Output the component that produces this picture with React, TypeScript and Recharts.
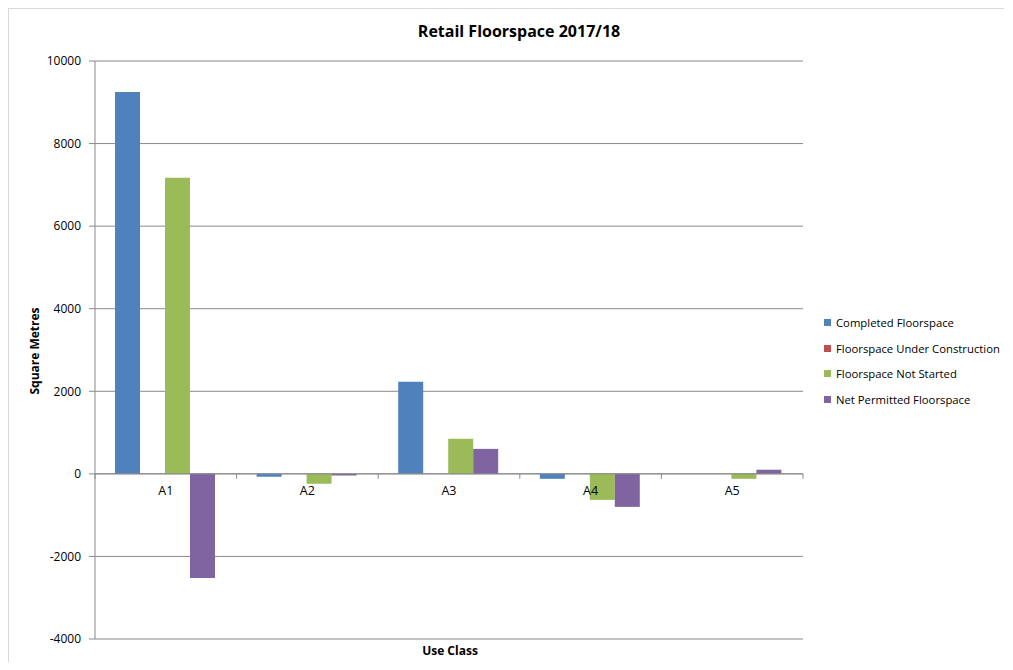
import React from 'react';
import { BarChart, Bar, XAxis, YAxis, CartesianGrid, ReferenceLine } from 'recharts';

const categories = ['A1', 'A2', 'A3', 'A4', 'A5'];
const completed = [9250, -70, 2230, -120, 0];
const underConstruction = [0, 0, 0, 0, 0];
const notStarted = [7170, -240, 850, -630, -120];
const netPermitted = [-2520, -40, 605, -800, 100];
const yTicks = [-4000, -2000, 0, 2000, 4000, 6000, 8000, 10000];

const series = [
  { key: 'completed', name: 'Completed Floorspace', color: '#4f81bd' },
  { key: 'underConstruction', name: 'Floorspace Under Construction', color: '#c0504d' },
  { key: 'notStarted', name: 'Floorspace Not Started', color: '#9bbb59' },
  { key: 'netPermitted', name: 'Net Permitted Floorspace', color: '#8064a2' },
];

const chartData = categories.map((c, i) => ({
  name: c,
  completed: completed[i],
  underConstruction: underConstruction[i],
  notStarted: notStarted[i],
  netPermitted: netPermitted[i],
}));

/* layout */
const W = 1005;
const H = 662;
const margin = { top: 53, right: 210, bottom: 30, left: 0 };
const Y_AXIS_W = 87;
const X_AXIS_H = 1;
const Y_MIN = -4000;
const Y_MAX = 10000;
const plotH = H - margin.top - margin.bottom - X_AXIS_H;
const plotW = W - margin.left - margin.right - Y_AXIS_W;
const band = plotW / categories.length;
const zeroY = margin.top + (plotH * Y_MAX) / (Y_MAX - Y_MIN);
const font = '"Open Sans", sans-serif';
const grey = '#898989';

const CategoryTick = (props: any) => {
  const { x, index, payload } = props;
  const left = x - band / 2;
  return (
    <g>
      <line x1={left} y1={zeroY} x2={left} y2={zeroY + 5} stroke={grey} />
      {index === categories.length - 1 && (
        <line x1={left + band} y1={zeroY} x2={left + band} y2={zeroY + 5} stroke={grey} />
      )}
      <text x={x} y={zeroY + 21} textAnchor="middle" fontSize={12.5} fontFamily={font} fill="#000">
        {payload.value}
      </text>
    </g>
  );
};

const LegendList = () => (
  <div
    style={{
      position: 'absolute',
      top: 301,
      left: 815,
      fontFamily: font,
      fontSize: 11.3,
      color: '#000',
    }}
  >
    {series.map((s) => (
      <div key={s.key} style={{ display: 'flex', alignItems: 'center', height: 25.5, whiteSpace: 'nowrap' }}>
        <span style={{ display: 'inline-block', width: 7, height: 7, background: s.color, marginRight: 5 }} />
        {s.name}
      </div>
    ))}
  </div>
);

const App: React.FC = () => {
  return (
    <div
      style={{
        position: 'relative',
        width: 996,
        height: 654,
        overflow: 'hidden',
        borderTop: '1px solid #d9d9d9',
        borderLeft: '1px solid #d9d9d9',
        boxSizing: 'border-box',
        background: '#fff',
      }}
    >
      <div
        style={{
          position: 'absolute',
          top: 11,
          left: 0,
          width: 1020,
          textAlign: 'center',
          fontFamily: font,
          fontWeight: 'bold',
          fontSize: 16,
        }}
      >
        Retail Floorspace 2017/18
      </div>
      <div
        style={{
          position: 'absolute',
          top: 633,
          left: margin.left + Y_AXIS_W,
          width: plotW,
          textAlign: 'center',
          fontFamily: font,
          fontWeight: 'bold',
          fontSize: 12,
        }}
      >
        Use Class
      </div>
      <div
        style={{
          position: 'absolute',
          top: margin.top + plotH / 2 - 9,
          left: 26 - 60,
          width: 120,
          textAlign: 'center',
          transform: 'rotate(-90deg)',
          fontFamily: font,
          fontWeight: 'bold',
          fontSize: 12,
          lineHeight: '18px',
        }}
      >
        Square Metres
      </div>
      <div style={{ position: 'absolute', top: -1, left: -1 }}>
        <BarChart width={W} height={H} data={chartData} margin={margin} barCategoryGap={20} barGap={0}>
          <CartesianGrid vertical={false} stroke={grey} />
          <XAxis
            dataKey="name"
            height={X_AXIS_H}
            axisLine={false}
            tickLine={false}
            tick={<CategoryTick />}
            interval={0}
          />
          <YAxis
            width={Y_AXIS_W}
            domain={[Y_MIN, Y_MAX]}
            ticks={yTicks}
            interval={0}
            stroke={grey}
            tickSize={6}
            tickMargin={8}
            tick={{ fill: '#000', fontSize: 12, fontFamily: font }}
          />
          <ReferenceLine y={0} stroke={grey} />
          {series.map((s) => (
            <Bar key={s.key} dataKey={s.key} name={s.name} fill={s.color} isAnimationActive={false} />
          ))}
        </BarChart>
      </div>
      <LegendList />
    </div>
  );
};

export default App;
